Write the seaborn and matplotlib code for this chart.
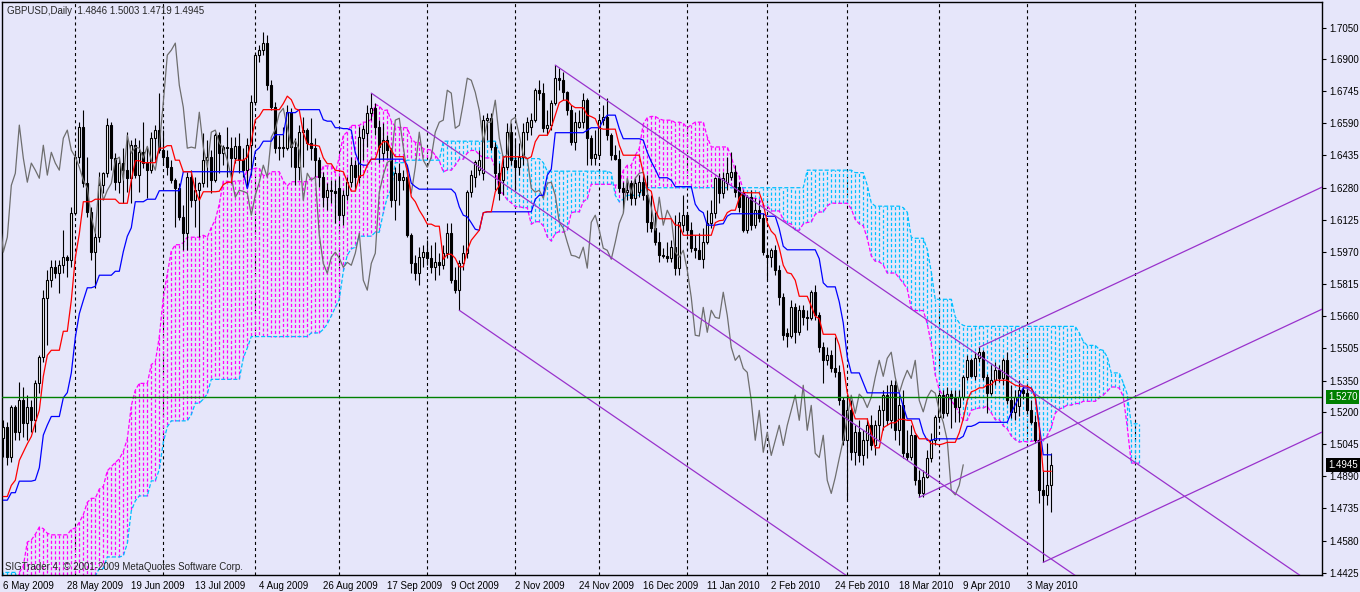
import matplotlib
matplotlib.use("Agg")
import matplotlib.pyplot as plt
import numpy as np
import pandas as pd
import seaborn as sns

# GBPUSD daily bars, 6 May 2009 .. 10 May 2010
opens = [
    1.5072, 1.5125, 1.4980, 1.5221, 1.5101, 1.5255, 1.5145, 1.5221, 1.5159, 1.5338,
    1.5462, 1.5747, 1.5834, 1.5896, 1.5867, 1.5906, 1.5944, 1.5930, 1.6156, 1.6427,
    1.6571, 1.6301, 1.6161, 1.5969, 1.6041, 1.6291, 1.6349, 1.6581, 1.6422, 1.6306,
    1.6398, 1.6364, 1.6325, 1.6484, 1.6340, 1.6450, 1.6398, 1.6364, 1.6518, 1.6557,
    1.6460, 1.6427, 1.6378, 1.6316, 1.6277, 1.6137, 1.6060, 1.6330, 1.6219, 1.6267,
    1.6301, 1.6412, 1.6427, 1.6316, 1.6532, 1.6446, 1.6475, 1.6470, 1.6422, 1.6479,
    1.6412, 1.6364, 1.6484, 1.6691, 1.6918, 1.6942, 1.6976, 1.6773, 1.6667, 1.6470,
    1.6475, 1.6470, 1.6643, 1.6475, 1.6378, 1.6547, 1.6557, 1.6494, 1.6470, 1.6412,
    1.6330, 1.6234, 1.6267, 1.6262, 1.6277, 1.6147, 1.6243, 1.6306, 1.6388, 1.6330,
    1.6520, 1.6542, 1.6638, 1.6662, 1.6571, 1.6446, 1.6508, 1.6460, 1.6219, 1.6349,
    1.6316, 1.6330, 1.6051, 1.5915, 1.5867, 1.5944, 1.5969, 1.5940, 1.5896, 1.5920,
    1.5906, 1.5964, 1.6060, 1.5834, 1.5786, 1.5915, 1.5964, 1.6258, 1.6330, 1.6364,
    1.6349, 1.6605, 1.6614, 1.6475, 1.6349, 1.6316, 1.6378, 1.6547, 1.6412, 1.6378,
    1.6427, 1.6547, 1.6571, 1.6605, 1.6749, 1.6735, 1.6566, 1.6580, 1.6686, 1.6807,
    1.6797, 1.6739, 1.6653, 1.6499, 1.6571, 1.6595, 1.6701, 1.6518, 1.6422, 1.6436,
    1.6605, 1.6619, 1.6532, 1.6436, 1.6420, 1.6277, 1.6258, 1.6301, 1.6229, 1.6258,
    1.6306, 1.6243, 1.6113, 1.6084, 1.6017, 1.5954, 1.5950, 1.5940, 1.5993, 1.5892,
    1.6099, 1.6147, 1.6075, 1.5988, 1.5978, 1.5935, 1.6017, 1.6108, 1.6156, 1.6325,
    1.6253, 1.6300, 1.6330, 1.6354, 1.6282, 1.6253, 1.6075, 1.6234, 1.6099, 1.6171,
    1.6132, 1.5955, 1.5945, 1.5978, 1.5882, 1.5751, 1.5580, 1.5565, 1.5703, 1.5583,
    1.5689, 1.5655, 1.5650, 1.5776, 1.5665, 1.5511, 1.5448, 1.5472, 1.5409, 1.5390,
    1.5255, 1.5063, 1.5207, 1.5005, 1.5101, 1.4990, 1.5063, 1.5135, 1.5038, 1.5135,
    1.5207, 1.5280, 1.5159, 1.5328, 1.5111, 1.5231, 1.5000, 1.4980, 1.5087, 1.4870,
    1.4807, 1.4884, 1.4976, 1.5063, 1.5173, 1.5280, 1.5193, 1.5285, 1.5265, 1.5221,
    1.5270, 1.5366, 1.5448, 1.5371, 1.5458, 1.5487, 1.5366, 1.5290, 1.5352, 1.5400,
    1.5361, 1.5448, 1.5255, 1.5200, 1.5230, 1.5304, 1.5290, 1.5207, 1.5149, 1.5063,
    1.4822, 1.4800, 1.4846,
]
highs = [
    1.5159, 1.5149, 1.5231, 1.5231, 1.5342, 1.5318, 1.5280, 1.5255, 1.5352, 1.5472,
    1.5786, 1.5882, 1.5930, 1.5930, 1.5930, 1.6075, 1.5954, 1.6185, 1.6446, 1.6595,
    1.6653, 1.6427, 1.6185, 1.6075, 1.6354, 1.6354, 1.6614, 1.6595, 1.6446, 1.6427,
    1.6470, 1.6547, 1.6508, 1.6518, 1.6508, 1.6595, 1.6475, 1.6547, 1.6581, 1.6735,
    1.6557, 1.6460, 1.6412, 1.6325, 1.6301, 1.6195, 1.6354, 1.6364, 1.6330, 1.6306,
    1.6542, 1.6508, 1.6460, 1.6542, 1.6547, 1.6484, 1.6571, 1.6523, 1.6523, 1.6542,
    1.6470, 1.6518, 1.6725, 1.6932, 1.6966, 1.7029, 1.7014, 1.6797, 1.6691, 1.6532,
    1.6571, 1.6677, 1.6662, 1.6518, 1.6581, 1.6619, 1.6566, 1.6614, 1.6518, 1.6427,
    1.6354, 1.6301, 1.6316, 1.6316, 1.6330, 1.6267, 1.6330, 1.6427, 1.6412, 1.6571,
    1.6581, 1.6677, 1.6735, 1.6686, 1.6605, 1.6590, 1.6532, 1.6470, 1.6378, 1.6398,
    1.6364, 1.6378, 1.6060, 1.5954, 1.5993, 1.6002, 1.6027, 1.6002, 1.6017, 1.5964,
    1.6002, 1.6108, 1.6108, 1.5896, 1.5930, 1.6002, 1.6267, 1.6364, 1.6412, 1.6460,
    1.6629, 1.6638, 1.6638, 1.6499, 1.6398, 1.6427, 1.6590, 1.6590, 1.6518, 1.6494,
    1.6590, 1.6619, 1.6638, 1.6759, 1.6797, 1.6783, 1.6653, 1.6701, 1.6870, 1.6856,
    1.6836, 1.6745, 1.6677, 1.6643, 1.6653, 1.6735, 1.6711, 1.6532, 1.6557, 1.6629,
    1.6677, 1.6711, 1.6542, 1.6484, 1.6460, 1.6306, 1.6306, 1.6316, 1.6325, 1.6340,
    1.6340, 1.6340, 1.6243, 1.6161, 1.6065, 1.5988, 1.6017, 1.6027, 1.6147, 1.6161,
    1.6243, 1.6161, 1.6113, 1.6051, 1.6060, 1.6084, 1.6171, 1.6219, 1.6330, 1.6349,
    1.6354, 1.6427, 1.6450, 1.6388, 1.6306, 1.6267, 1.6243, 1.6267, 1.6229, 1.6219,
    1.6156, 1.5988, 1.5988, 1.6002, 1.5906, 1.5771, 1.5602, 1.5737, 1.5723, 1.5713,
    1.5713, 1.5689, 1.5786, 1.5810, 1.5679, 1.5535, 1.5511, 1.5496, 1.5559, 1.5424,
    1.5270, 1.5280, 1.5255, 1.5135, 1.5159, 1.5111, 1.5169, 1.5183, 1.5159, 1.5231,
    1.5304, 1.5328, 1.5352, 1.5352, 1.5280, 1.5304, 1.5111, 1.5135, 1.5090, 1.4918,
    1.4918, 1.5014, 1.5096, 1.5183, 1.5294, 1.5304, 1.5318, 1.5304, 1.5304, 1.5304,
    1.5376, 1.5472, 1.5457, 1.5487, 1.5511, 1.5496, 1.5380, 1.5424, 1.5438, 1.5424,
    1.5460, 1.5487, 1.5328, 1.5304, 1.5352, 1.5330, 1.5318, 1.5255, 1.5183, 1.5110,
    1.4918, 1.5048, 1.5003,
]
lows = [
    1.4980, 1.4942, 1.4956, 1.5063, 1.5063, 1.5077, 1.5063, 1.5101, 1.5101, 1.5290,
    1.5438, 1.5520, 1.5800, 1.5843, 1.5771, 1.5867, 1.5848, 1.5896, 1.6147, 1.6398,
    1.6282, 1.6137, 1.5930, 1.5795, 1.6017, 1.6253, 1.6330, 1.6364, 1.6267, 1.6253,
    1.6205, 1.6258, 1.6205, 1.6325, 1.6258, 1.6373, 1.6229, 1.6349, 1.6412, 1.6446,
    1.6388, 1.6340, 1.6301, 1.6089, 1.6123, 1.5978, 1.5978, 1.6185, 1.6089, 1.6041,
    1.6282, 1.6282, 1.6253, 1.6306, 1.6349, 1.6388, 1.6330, 1.6301, 1.6398, 1.6349,
    1.6330, 1.6282, 1.6340, 1.6677, 1.6884, 1.6918, 1.6749, 1.6653, 1.6446, 1.6412,
    1.6427, 1.6460, 1.6378, 1.6291, 1.6316, 1.6378, 1.6460, 1.6412, 1.6330, 1.6282,
    1.6185, 1.6171, 1.6205, 1.6108, 1.6123, 1.6099, 1.6219, 1.6282, 1.6267, 1.6301,
    1.6412, 1.6475, 1.6605, 1.6532, 1.6398, 1.6412, 1.6422, 1.6185, 1.6123, 1.6195,
    1.6267, 1.6041, 1.5867, 1.5834, 1.5810, 1.5896, 1.5906, 1.5867, 1.5834, 1.5858,
    1.5890, 1.5940, 1.5819, 1.5771, 1.5689, 1.5882, 1.5940, 1.6234, 1.6282, 1.6340,
    1.6316, 1.6508, 1.6460, 1.6267, 1.6219, 1.6243, 1.6364, 1.6388, 1.6267, 1.6340,
    1.6388, 1.6508, 1.6532, 1.6595, 1.6701, 1.6547, 1.6532, 1.6557, 1.6677, 1.6749,
    1.6701, 1.6629, 1.6484, 1.6460, 1.6566, 1.6566, 1.6388, 1.6388, 1.6388, 1.6422,
    1.6581, 1.6508, 1.6412, 1.6412, 1.6258, 1.6161, 1.6219, 1.6195, 1.6195, 1.6234,
    1.6219, 1.6065, 1.6065, 1.6002, 1.5920, 1.5940, 1.5920, 1.5920, 1.5858, 1.5858,
    1.6065, 1.6051, 1.5969, 1.5940, 1.5940, 1.5892, 1.6010, 1.6084, 1.6132, 1.6205,
    1.6229, 1.6267, 1.6316, 1.6234, 1.6161, 1.6065, 1.6060, 1.6075, 1.6084, 1.6113,
    1.5954, 1.5834, 1.5896, 1.5858, 1.5713, 1.5545, 1.5511, 1.5554, 1.5530, 1.5569,
    1.5617, 1.5593, 1.5641, 1.5641, 1.5487, 1.5337, 1.5424, 1.5390, 1.5366, 1.5231,
    1.5038, 1.4773, 1.4966, 1.4942, 1.4956, 1.4942, 1.4976, 1.5014, 1.4990, 1.5063,
    1.5111, 1.5135, 1.5120, 1.5063, 1.5038, 1.4976, 1.4966, 1.4966, 1.4846, 1.4788,
    1.4788, 1.4880, 1.4956, 1.5038, 1.5159, 1.5169, 1.5180, 1.5120, 1.5150, 1.5150,
    1.5255, 1.5352, 1.5366, 1.5352, 1.5438, 1.5352, 1.5193, 1.5280, 1.5328, 1.5342,
    1.5330, 1.5240, 1.5170, 1.5160, 1.5180, 1.5260, 1.5190, 1.5140, 1.5050, 1.4760,
    1.4475, 1.4749, 1.4719,
]
closes = [
    1.5125, 1.4980, 1.5221, 1.5101, 1.5255, 1.5145, 1.5221, 1.5159, 1.5338, 1.5462,
    1.5747, 1.5834, 1.5896, 1.5867, 1.5906, 1.5944, 1.5930, 1.6156, 1.6427, 1.6571,
    1.6301, 1.6161, 1.5969, 1.6041, 1.6291, 1.6349, 1.6581, 1.6422, 1.6306, 1.6398,
    1.6364, 1.6325, 1.6484, 1.6340, 1.6450, 1.6398, 1.6364, 1.6518, 1.6557, 1.6460,
    1.6427, 1.6378, 1.6316, 1.6277, 1.6137, 1.6060, 1.6330, 1.6219, 1.6267, 1.6301,
    1.6412, 1.6427, 1.6316, 1.6532, 1.6446, 1.6475, 1.6470, 1.6422, 1.6479, 1.6412,
    1.6364, 1.6484, 1.6691, 1.6918, 1.6942, 1.6976, 1.6773, 1.6667, 1.6470, 1.6475,
    1.6470, 1.6643, 1.6475, 1.6378, 1.6547, 1.6557, 1.6494, 1.6470, 1.6412, 1.6330,
    1.6234, 1.6267, 1.6262, 1.6253, 1.6147, 1.6243, 1.6306, 1.6388, 1.6330, 1.6523,
    1.6560, 1.6638, 1.6662, 1.6571, 1.6475, 1.6508, 1.6460, 1.6219, 1.6349, 1.6316,
    1.6330, 1.6051, 1.5915, 1.5867, 1.5944, 1.5969, 1.5940, 1.5896, 1.5920, 1.5906,
    1.5964, 1.6060, 1.5834, 1.5786, 1.5915, 1.5964, 1.6258, 1.6340, 1.6402, 1.6412,
    1.6605, 1.6614, 1.6475, 1.6349, 1.6253, 1.6378, 1.6547, 1.6412, 1.6378, 1.6427,
    1.6547, 1.6595, 1.6605, 1.6749, 1.6735, 1.6566, 1.6580, 1.6686, 1.6807, 1.6797,
    1.6739, 1.6653, 1.6499, 1.6595, 1.6595, 1.6701, 1.6518, 1.6422, 1.6440, 1.6605,
    1.6619, 1.6532, 1.6436, 1.6420, 1.6277, 1.6258, 1.6267, 1.6229, 1.6301, 1.6306,
    1.6243, 1.6113, 1.6084, 1.6017, 1.5954, 1.5950, 1.5940, 1.5993, 1.5892, 1.6113,
    1.6147, 1.6075, 1.5988, 1.5978, 1.5935, 1.6017, 1.6108, 1.6156, 1.6325, 1.6253,
    1.6325, 1.6349, 1.6354, 1.6258, 1.6185, 1.6075, 1.6234, 1.6099, 1.6171, 1.6132,
    1.5969, 1.5945, 1.5978, 1.5882, 1.5751, 1.5569, 1.5565, 1.5703, 1.5583, 1.5689,
    1.5655, 1.5650, 1.5776, 1.5665, 1.5511, 1.5448, 1.5472, 1.5409, 1.5390, 1.5255,
    1.5063, 1.5207, 1.5005, 1.5101, 1.4990, 1.5063, 1.5135, 1.5038, 1.5135, 1.5207,
    1.5280, 1.5159, 1.5328, 1.5111, 1.5231, 1.5000, 1.4980, 1.5087, 1.4870, 1.4807,
    1.4884, 1.4976, 1.5063, 1.5173, 1.5280, 1.5193, 1.5285, 1.5265, 1.5221, 1.5270,
    1.5366, 1.5448, 1.5371, 1.5458, 1.5487, 1.5366, 1.5290, 1.5352, 1.5400, 1.5361,
    1.5448, 1.5255, 1.5200, 1.5270, 1.5304, 1.5290, 1.5207, 1.5149, 1.5063, 1.4822,
    1.4800, 1.4846, 1.4945,
]

# earlier history (5 Jan .. 5 May 2009), off screen, only feeds the Ichimoku windows
pre_highs = [
    1.4860, 1.5130, 1.5250, 1.5330, 1.5350, 1.5190, 1.4900, 1.4750, 1.4700, 1.4880,
    1.4700, 1.4350, 1.4150, 1.4050, 1.3870, 1.4000, 1.4220, 1.4500, 1.4550, 1.4560,
    1.4450, 1.4450, 1.4480, 1.4640, 1.4800, 1.4990, 1.4960, 1.4520, 1.4460, 1.4460,
    1.4370, 1.4300, 1.4330, 1.4380, 1.4470, 1.4500, 1.4550, 1.4480, 1.4330, 1.4340,
    1.4200, 1.4120, 1.4240, 1.4250, 1.4200, 1.4090, 1.3950, 1.3880, 1.3930, 1.3980,
    1.4080, 1.4120, 1.4340, 1.4590, 1.4520, 1.4730, 1.4740, 1.4780, 1.4820, 1.4720,
    1.4440, 1.4380, 1.4630, 1.4820, 1.4860, 1.4800, 1.4750, 1.4710, 1.4800, 1.4800,
    1.4780, 1.4960, 1.4950, 1.4990, 1.4840, 1.4730, 1.4600, 1.4660, 1.4760, 1.4770,
    1.4740, 1.4640, 1.4890, 1.4900, 1.4900, 1.5020, 1.5120,
]
pre_lows = [
    1.4480, 1.4750, 1.4950, 1.5050, 1.5050, 1.4900, 1.4600, 1.4400, 1.4350, 1.4600,
    1.4350, 1.3850, 1.3620, 1.3700, 1.3503, 1.3620, 1.3900, 1.4100, 1.4200, 1.4280,
    1.4250, 1.4190, 1.4280, 1.4350, 1.4560, 1.4740, 1.4400, 1.4350, 1.4280, 1.4310,
    1.4230, 1.4150, 1.4110, 1.4180, 1.4200, 1.4300, 1.4350, 1.4150, 1.4120, 1.4130,
    1.4000, 1.3960, 1.4010, 1.4050, 1.3980, 1.3870, 1.3700, 1.3660, 1.3720, 1.3830,
    1.3830, 1.3870, 1.3920, 1.4330, 1.4340, 1.4400, 1.4470, 1.4460, 1.4600, 1.4300,
    1.4060, 1.4265, 1.4280, 1.4600, 1.4640, 1.4620, 1.4560, 1.4540, 1.4580, 1.4650,
    1.4610, 1.4680, 1.4760, 1.4770, 1.4600, 1.4510, 1.4420, 1.4390, 1.4540, 1.4600,
    1.4425, 1.4460, 1.4510, 1.4590, 1.4670, 1.4750, 1.4820,
]

date_labels = [
    "6 May 2009", "28 May 2009", "19 Jun 2009", "13 Jul 2009", "4 Aug 2009",
    "26 Aug 2009", "17 Sep 2009", "9 Oct 2009", "2 Nov 2009", "24 Nov 2009",
    "16 Dec 2009", "11 Jan 2010", "2 Feb 2010", "24 Feb 2010", "18 Mar 2010",
    "9 Apr 2010", "3 May 2010",
]
date_bars = [0, 16, 32, 48, 64, 80, 96, 112, 128, 144, 160, 176, 192, 208, 224, 240, 256]
month_start_bars = [18, 40, 63, 84, 106, 128, 149, 171, 191, 211, 234, 256, 283]
price_ticks = [
    1.4425, 1.4580, 1.4735, 1.4890, 1.5045, 1.5200, 1.5350, 1.5505, 1.5660,
    1.5815, 1.5970, 1.6125, 1.6280, 1.6435, 1.6590, 1.6745, 1.6900, 1.7050,
]

# trend lines: anchor bar, anchor price, slope per bar
channel_down = [(92, 1.6735, -0.00132), (114, 1.5689, -0.00132), (138, 1.6870, -0.00132)]
channel_up = [(229, 1.4788, 0.0009), (244, 1.5511, 0.0009), (260, 1.4475, 0.0009)]
level_price = 1.5270
last_price = 1.4945

TENKAN, KIJUN, SENKOU_B = 9, 22, 65
BG = "#E6E6FA"
MAGENTA = "#FF00FF"
CYAN = "#00BFFF"
PURPLE = "#9932CC"
XMIN, XMAX = -0.33, 329.7
YMIN, YMAX = 1.4414, 1.7174

sns.set_style("white")
plt.rcParams["font.family"] = ["Liberation Sans", "DejaVu Sans"]
plt.rcParams["lines.scale_dashes"] = False
FS = 7

# Ichimoku lines computed from the bars
n_pre = len(pre_highs)
hist = pd.DataFrame({"high": pre_highs + highs, "low": pre_lows + lows})
hist["bar"] = np.arange(len(hist)) - n_pre


def midpoint(n):
    return (hist["high"].rolling(n).max() + hist["low"].rolling(n).min()) / 2


hist["tenkan"] = midpoint(TENKAN)
hist["kijun"] = midpoint(KIJUN)
hist["span_a"] = (hist["tenkan"] + hist["kijun"]) / 2
hist["span_b"] = midpoint(SENKOU_B)

cloud = hist.assign(x=hist["bar"] + KIJUN).dropna(subset=["span_a", "span_b"])
cloud = cloud[cloud["x"] >= -1]

bars = hist[hist["bar"] >= 0].copy()
bars["open"] = opens
bars["close"] = closes
chikou = pd.DataFrame({"x": bars["bar"] - KIJUN, "close": closes})

fig = plt.figure(figsize=(13.6, 5.92), dpi=100, facecolor=BG)
ax = fig.add_axes([2 / 1360, 17 / 592, 1320 / 1360, 573 / 592], facecolor=BG)

for m in month_start_bars:
    ax.axvline(m, color="black", lw=0.8, ls=(0, (2.2, 2.2)), zorder=1)

# cloud hatching: one dotted stroke per bar between span A and span B,
# drawn as single broken paths (NaN separated) per colour
above = cloud["span_a"] >= cloud["span_b"]
for mask, col in [(above, MAGENTA), (~above, CYAN)]:
    part = cloud[mask]
    n = len(part)
    hx = np.column_stack([part["x"], part["x"], np.full(n, np.nan)]).ravel()
    hy = np.column_stack([part["span_a"], part["span_b"], np.full(n, np.nan)]).ravel()
    ax.plot(hx, hy, color=col, lw=0.9, ls=(0, (2.2, 1.6)), zorder=2)
ax.plot(cloud["x"], cloud["span_a"], color=MAGENTA, lw=0.9, ls=(0, (2.9, 1.45)), zorder=2.5)
ax.plot(cloud["x"], cloud["span_b"], color=CYAN, lw=0.9, ls=(0, (2.9, 1.45)), zorder=2.5)

# candles
x = bars["bar"].to_numpy()
o = bars["open"].to_numpy()
c = bars["close"].to_numpy()
up = c >= o
ax.vlines(x, bars["low"], bars["high"], color="black", lw=0.8, zorder=3)
ax.bar(x[up], (c - o)[up], bottom=o[up], width=0.5, color="white",
       edgecolor="black", linewidth=0.8, zorder=4)
ax.bar(x[~up], (o - c)[~up], bottom=c[~up], width=0.5, color="black",
       edgecolor="black", linewidth=0.8, zorder=4)

sns.lineplot(data=chikou, x="x", y="close", color="#6E6E6E", lw=0.9, ax=ax, zorder=5)
sns.lineplot(data=bars, x="bar", y="kijun", color="#0000FF", lw=0.9, ax=ax, zorder=5)
sns.lineplot(data=bars, x="bar", y="tenkan", color="#FF0000", lw=0.9, ax=ax, zorder=5)

for b0, p0, slope in channel_down + channel_up:
    xs = np.array([b0, XMAX])
    ax.plot(xs, p0 + slope * (xs - b0), color=PURPLE, lw=0.9, zorder=6)

ax.axhline(level_price, color="#008000", lw=1, zorder=6)

ax.set_xlim(XMIN, XMAX)
ax.set_ylim(YMIN, YMAX)
ax.set_xlabel("")
ax.set_ylabel("")

ax.yaxis.tick_right()
ax.set_yticks(price_ticks)
ax.set_yticklabels([f"{v:.4f}" for v in price_ticks])
ax.set_xticks(date_bars)
ax.set_xticklabels(date_labels)
for lbl in ax.get_xticklabels():
    lbl.set_horizontalalignment("left")
ax.tick_params(axis="both", labelsize=FS, length=3, width=0.8, color="black",
               labelcolor="black", direction="out")
ax.tick_params(axis="y", pad=2)
ax.tick_params(axis="x", pad=1.5)
for s in ax.spines.values():
    s.set_visible(True)
    s.set_color("black")
    s.set_linewidth(1)

for price, face in [(level_price, "#008000"), (last_price, "black")]:
    ax.annotate(f"{price:.4f}", xy=(1, price), xycoords=("axes fraction", "data"),
                xytext=(4.3, 0), textcoords="offset points", ha="left", va="center",
                fontsize=FS, color="white", annotation_clip=False, zorder=10,
                bbox=dict(boxstyle="square,pad=0.2", fc=face, ec="none"))

ax.text(0.0038, 0.984, "GBPUSD,Daily  1.4846 1.5003 1.4719 1.4945",
        transform=ax.transAxes, fontsize=FS, va="center", ha="left", zorder=10)
ax.text(0.0023, 0.014, "SIGTrader 4, \u00a9 2001-2009 MetaQuotes Software Corp.",
        transform=ax.transAxes, fontsize=FS, va="center", ha="left", zorder=10)

fig.savefig("out.png", dpi=100, facecolor=BG)
